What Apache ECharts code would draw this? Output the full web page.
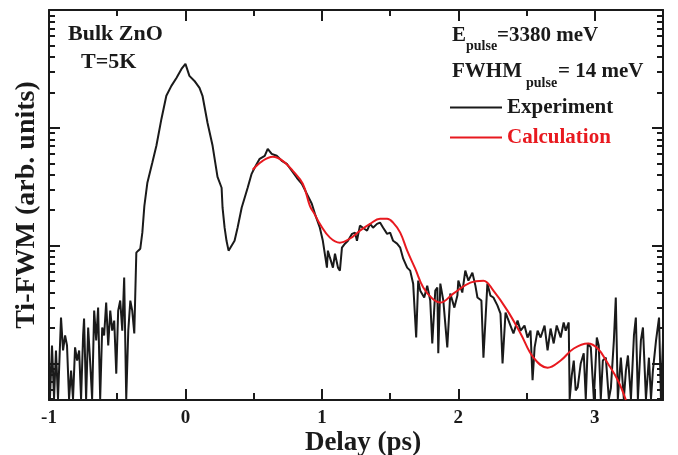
<!DOCTYPE html>
<html>
<head>
<meta charset="utf-8">
<title>Ti-FWM Bulk ZnO</title>
<script src="https://cdn.jsdelivr.net/npm/echarts@6/dist/echarts.min.js"></script>
<style>
  html, body { margin: 0; padding: 0; background: #fff; }
  #chart { width: 678px; height: 455px; }
</style>
</head>
<body>
<div id="chart"></div>
<script>
// 实验数据 (delay in ps, Ti-FWM in arb. units)
var expDelay = [
  -1.000, -0.993, -0.978, -0.963, -0.949, -0.934, -0.912, -0.897, -0.882, -0.868,
  -0.853, -0.838, -0.824, -0.809, -0.794, -0.779, -0.765, -0.750, -0.743, -0.728,
  -0.713, -0.699, -0.684, -0.669, -0.654, -0.640, -0.625, -0.610, -0.596, -0.581,
  -0.566, -0.551, -0.537, -0.522, -0.507, -0.493, -0.478, -0.463, -0.449, -0.434,
  -0.419, -0.404, -0.390, -0.375, -0.360, -0.346, -0.331, -0.316, -0.301, -0.279,
  -0.243, -0.213, -0.176, -0.140, -0.103, -0.066, -0.029, 0.000, 0.029, 0.066,
  0.103, 0.125, 0.162, 0.199, 0.235, 0.265, 0.272, 0.287, 0.301, 0.316,
  0.338, 0.360, 0.382, 0.412, 0.434, 0.456, 0.485, 0.507, 0.544, 0.581,
  0.603, 0.632, 0.669, 0.706, 0.743, 0.779, 0.816, 0.853, 0.890, 0.926,
  0.949, 0.985, 1.007, 1.037, 1.044, 1.059, 1.081, 1.096, 1.118, 1.132,
  1.147, 1.169, 1.191, 1.221, 1.243, 1.257, 1.279, 1.301, 1.331, 1.353,
  1.375, 1.404, 1.426, 1.449, 1.478, 1.500, 1.522, 1.551, 1.574, 1.596,
  1.625, 1.647, 1.669, 1.691, 1.706, 1.721, 1.750, 1.772, 1.794, 1.809,
  1.831, 1.846, 1.853, 1.868, 1.890, 1.919, 1.941, 1.971, 1.993, 2.000,
  2.029, 2.051, 2.074, 2.103, 2.125, 2.140, 2.169, 2.184, 2.213, 2.235,
  2.257, 2.287, 2.309, 2.324, 2.346, 2.360, 2.382, 2.404, 2.434, 2.456,
  2.485, 2.507, 2.529, 2.544, 2.559, 2.581, 2.603, 2.632, 2.654, 2.676,
  2.699, 2.721, 2.750, 2.772, 2.787, 2.809, 2.816, 2.831, 2.846, 2.860,
  2.875, 2.897, 2.919, 2.934, 2.949, 2.971, 2.993, 3.015, 3.029, 3.044,
  3.059, 3.081, 3.103, 3.118, 3.140, 3.154, 3.169, 3.191, 3.213, 3.228,
  3.243, 3.265, 3.287, 3.301, 3.316, 3.338, 3.353, 3.375, 3.397, 3.412,
  3.426, 3.449, 3.471, 3.485, 3.500
];
var expSignal = [
  1.06, 0.5, 1.42, 0.5, 1.29, 0.5, 2.45, 1.29, 1.73, 1.42,
  0.5, 0.87, 0.5, 1.37, 1.06, 1.29, 0.5, 1.73, 2.41, 0.5,
  2.02, 1.06, 0.5, 2.81, 1.57, 2.98, 0.5, 2.02, 1.73, 3.29,
  1.42, 2.81, 1.90, 2.31, 0.82, 2.81, 3.42, 1.90, 5.36, 0.5,
  1.90, 3.42, 2.81, 1.80, 8.72, 9.07, 9.43, 12.9, 21.8, 34.2,
  50.5, 70.4, 119, 187, 227, 265, 316, 349, 276, 250,
  218, 187, 110, 70.4, 38.4, 31.0, 21.0, 14.2, 11.0, 9.07,
  10.0, 11.0, 14.2, 21.0, 25.5, 31.0, 40.7, 45.8, 54.6, 57.9,
  66.4, 60.1, 57.9, 52.5, 49.4, 43.2, 37.7, 33.5, 27.5, 22.7,
  18.6, 14.2, 11.0, 6.51, 9.07, 7.91, 6.51, 8.55, 6.51, 6.14,
  9.62, 10.4, 11.0, 12.6, 12.9, 11.0, 14.8, 14.2, 13.4, 15.3,
  14.2, 15.3, 15.7, 14.2, 12.6, 12.9, 11.0, 10.4, 9.62, 7.76,
  6.51, 6.14, 4.76, 1.66, 5.05, 4.15, 3.63, 4.58, 3.42, 1.48,
  4.15, 4.41, 1.22, 4.76, 3.42, 1.37, 3.92, 2.98, 3.77, 5.05,
  4.0, 6.14, 5.05, 5.9, 4.58, 3.63, 3.42, 1.12, 4.76, 3.77,
  3.63, 3.10, 2.65, 1.0, 2.71, 2.45, 2.10, 1.80, 2.31, 1.90,
  2.10, 1.66, 1.90, 0.72, 1.37, 1.90, 1.66, 2.10, 1.29, 1.98,
  1.48, 2.10, 1.66, 2.23, 1.90, 2.23, 0.5, 0.79, 1.06, 0.59,
  0.63, 1.0, 1.22, 0.5, 1.48, 1.37, 0.5, 1.66, 1.42, 0.5,
  1.06, 1.12, 0.5, 0.62, 1.57, 3.63, 0.5, 1.12, 0.5, 0.87,
  1.17, 0.5, 1.73, 2.45, 0.5, 1.57, 2.02, 0.5, 1.12, 0.5,
  0.87, 1.57, 2.45, 0.5, 1.57
];

// 计算曲线
var calcDelay = [
  0.493, 0.566, 0.640, 0.713, 0.787, 0.860, 0.912, 0.949, 0.985, 1.059,
  1.132, 1.206, 1.279, 1.353, 1.426, 1.478, 1.522, 1.574, 1.625, 1.684,
  1.743, 1.809, 1.868, 1.963, 2.088, 2.184, 2.257, 2.360, 2.456, 2.551,
  2.654, 2.750, 2.846, 2.949, 3.022, 3.096, 3.169, 3.228
];
var calcSignal = [
  44.1, 52.5, 56.8, 52.5, 43.2, 33.5, 21.8, 18.3, 15.3, 11.7,
  10.6, 11.5, 13.4, 15.3, 16.9, 16.9, 15.7, 12.9, 9.07, 6.38,
  4.41, 3.56, 3.29, 3.92, 4.86, 5.05, 4.15, 2.81, 1.80, 1.12,
  0.92, 1.06, 1.34, 1.48, 1.34, 1.0, 0.72, 0.49
];

// 刻度
var xTickLabels = [-1, 0, 1, 2, 3];
var xHalfTicks = [-1, -0.5, 0, 0.5, 1, 1.5, 2, 2.5, 3, 3.5];
var yMajorTicks = [1, 10, 100, 1000];
var yMinorTicks = [0.5, 0.6, 0.7, 0.8, 0.9,
  2, 3, 4, 5, 6, 7, 8, 9,
  20, 30, 40, 50, 60, 70, 80, 90,
  200, 300, 400, 500, 600, 700, 800, 900];

var yMin = 0.49, yMax = 1000;
var FONT = '"Liberation Serif", "Times New Roman", serif';
var INK = '#1a1a1a';
var RED = '#e8191f';

function pairs(xs, ys) {
  return xs.map(function (x, i) { return [x, ys[i]]; });
}

var lgMin = Math.log10(yMin), lgMax = Math.log10(yMax);

// y 轴刻度: 叠加的线性轴 (对数位置), 只画刻度
function yTickAxis(pos, vals, len, showLine, extra) {
  var ax = {
    type: 'value',
    position: pos,
    min: lgMin,
    max: lgMax,
    axisLine: { show: showLine, onZero: false, lineStyle: { color: INK, width: 2 } },
    axisTick: {
      show: true, inside: true, length: len,
      customValues: vals.map(function (v) { return Math.log10(v); }),
      lineStyle: { color: INK, width: 2 }
    },
    axisLabel: { show: false },
    splitLine: { show: false }
  };
  return Object.assign(ax, extra || {});
}

// x 轴刻度 (整数长, 半整数短)
function xTickAxis(pos, vals, len, showLine) {
  return {
    type: 'value',
    position: pos,
    min: -1,
    max: 3.5,
    axisLine: { show: showLine, onZero: false, lineStyle: { color: INK, width: 2 } },
    axisTick: { show: true, inside: true, length: len, customValues: vals, lineStyle: { color: INK, width: 2 } },
    axisLabel: { show: false },
    splitLine: { show: false }
  };
}

var chart = echarts.init(document.getElementById('chart'), null, { renderer: 'canvas' });

var option = {
  backgroundColor: '#fff',
  animation: false,
  grid: { left: 49, right: 15, top: 10, bottom: 55, outerBoundsMode: 'none', containLabel: false },
  legend: {
    orient: 'vertical',
    left: 450,
    top: 97,
    padding: 0,
    icon: 'rect',
    itemWidth: 52,
    itemHeight: 2,
    itemGap: 9,
    selectedMode: false,
    textStyle: { fontFamily: FONT, fontWeight: 'bold', fontSize: 21, lineHeight: 21, color: INK },
    data: [
      { name: 'Experiment', textStyle: { color: INK } },
      { name: 'Calculation', textStyle: { color: RED } }
    ]
  },
  xAxis: [
    {
      type: 'value',
      min: -1,
      max: 3.5,
      interval: 0.5,
      name: 'Delay (ps)',
      nameLocation: 'middle',
      nameGap: 30,
      nameMoveOverlap: false,
      nameTextStyle: { fontFamily: FONT, fontWeight: 'bold', fontSize: 27, color: INK, padding: [0, 0, 0, 14] },
      axisLine: { onZero: false, lineStyle: { color: INK, width: 2 } },
      axisTick: { inside: true, length: 7, lineStyle: { color: INK, width: 2 } },
      axisLabel: {
        margin: 9,
        color: INK,
        fontFamily: FONT,
        fontWeight: 'bold',
        fontSize: 19,
        formatter: function (v) { return xTickLabels.indexOf(v) >= 0 ? String(v) : ''; }
      },
      splitLine: { show: false }
    },
    xTickAxis('bottom', xTickLabels, 11, false),
    xTickAxis('top', xHalfTicks, 6, true),
    xTickAxis('top', xTickLabels, 11, false)
  ],
  yAxis: [
    {
      type: 'log',
      logBase: 10,
      min: yMin,
      max: yMax,
      show: false
    },
    yTickAxis('left', yMajorTicks, 11, true, {
      name: 'Ti-FWM (arb. units)',
      nameLocation: 'middle',
      nameGap: 8,
      nameMoveOverlap: false,
      nameTextStyle: { fontFamily: FONT, fontWeight: 'bold', fontSize: 28, color: INK }
    }),
    yTickAxis('left', yMinorTicks, 6, false),
    yTickAxis('right', yMajorTicks, 11, true),
    yTickAxis('right', yMinorTicks, 6, false)
  ],
  series: [
    {
      name: 'Experiment',
      type: 'line',
      xAxisIndex: 0,
      yAxisIndex: 0,
      showSymbol: false,
      symbol: 'none',
      lineStyle: { color: INK, width: 2 },
      itemStyle: { color: INK },
      data: pairs(expDelay, expSignal)
    },
    {
      name: 'Calculation',
      type: 'line',
      xAxisIndex: 0,
      yAxisIndex: 0,
      smooth: 0.4,
      showSymbol: false,
      symbol: 'none',
      lineStyle: { color: RED, width: 2 },
      itemStyle: { color: RED },
      data: pairs(calcDelay, calcSignal)
    }
  ],
  graphic: [
    { type: 'text', left: 68, top: 23, style: { text: 'Bulk ZnO', font: 'bold 22px ' + FONT, fill: INK } },
    { type: 'text', left: 81, top: 51, style: { text: 'T=5K', font: 'bold 22px ' + FONT, fill: INK } },
    { type: 'text', left: 452, top: 25, style: { text: 'E', font: 'bold 21px ' + FONT, fill: INK } },
    { type: 'text', left: 466, top: 39, style: { text: 'pulse', font: 'bold 14px ' + FONT, fill: INK } },
    { type: 'text', left: 497, top: 25, style: { text: '=3380 meV', font: 'bold 21px ' + FONT, fill: INK } },
    { type: 'text', left: 452, top: 61, style: { text: 'FWHM', font: 'bold 21px ' + FONT, fill: INK } },
    { type: 'text', left: 526, top: 76, style: { text: 'pulse', font: 'bold 14px ' + FONT, fill: INK } },
    { type: 'text', left: 558, top: 61, style: { text: '= 14 meV', font: 'bold 21px ' + FONT, fill: INK } }
  ]
};

chart.setOption(option);
</script>
</body>
</html>
